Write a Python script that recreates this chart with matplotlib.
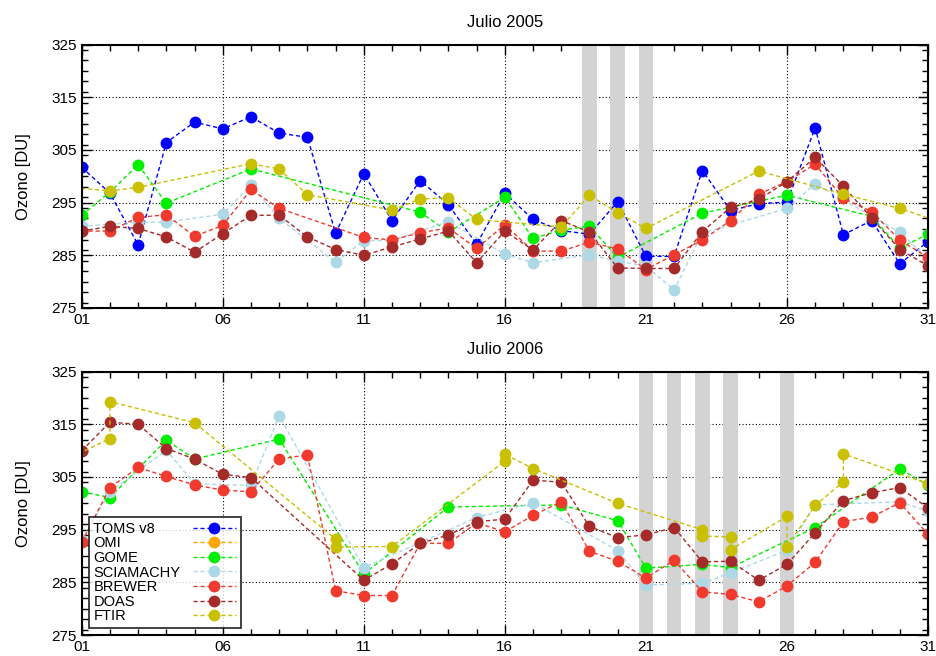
import matplotlib
matplotlib.use("Agg")
import matplotlib.pyplot as plt
from matplotlib.ticker import MultipleLocator

plt.rcParams['font.family'] = ['Liberation Sans', 'DejaVu Sans']

# ---- Julio 2005 ----
toms05_x = list(range(1, 32))
toms05_y = [301.7, 296.8, 287.0, 306.4, 310.3, 309.0, 311.3, 308.2, 307.4, 289.2,
            300.5, 291.6, 299.2, 294.6, 287.1, 296.8, 291.8, 289.7, 289.0, 295.2,
            284.8, 284.8, 301.1, 293.5, 294.8, 295.1, 309.2, 288.9, 291.6, 283.4, 287.6]
gome05_x = [1, 2, 3, 4, 7, 13, 14, 16, 17, 18, 19, 20, 23, 26, 29, 30, 31]
gome05_y = [292.6, 297.0, 302.2, 294.9, 301.4, 293.2, 289.4, 296.0, 288.2, 289.8,
            290.5, 284.6, 293.0, 296.4, 292.4, 286.4, 289.0]
scia05_x = [1, 3, 4, 6, 7, 8, 10, 11, 12, 14, 16, 17, 19, 20, 21, 22, 23, 26, 27, 30, 31]
scia05_y = [290.5, 291.3, 291.3, 292.8, 298.4, 292.0, 283.7, 287.8, 287.8, 291.4,
            285.2, 283.6, 285.1, 283.9, 283.0, 278.4, 289.2, 293.9, 298.6, 289.4, 284.3]
brewer05_x = [1, 2, 3, 4, 5, 6, 7, 8] + list(range(11, 32))
brewer05_y = [289.6, 289.6, 292.2, 292.7, 288.6, 290.7, 297.5, 293.9,
              288.4, 287.9, 289.3, 290.2, 286.3, 290.8, 285.8, 285.8, 287.5, 286.2,
              282.3, 285.1, 287.9, 291.6, 296.6, 299.0, 302.3, 295.8, 293.3, 287.9, 284.6]
doas05_x = list(range(1, 32))
doas05_y = [289.6, 290.5, 290.1, 288.5, 285.6, 289.1, 292.6, 292.6, 288.5, 286.1,
            285.0, 286.6, 288.1, 289.6, 283.6, 289.6, 286.0, 291.6, 289.4, 282.6,
            282.5, 282.5, 289.5, 294.1, 295.6, 299.0, 303.6, 298.1, 292.1, 286.1, 283.0]
ftir05_x = [0, 2, 3, 7, 8, 9, 12, 13, 14, 15, 18, 19, 20, 21, 25, 28, 30, 32]
ftir05_y = [298.2, 297.2, 297.9, 302.4, 301.4, 296.5, 293.6, 295.7, 295.9, 291.8,
            290.4, 296.4, 293.1, 290.1, 301.0, 296.6, 293.9, 290.3]
bars05 = [19, 20, 21]

# ---- Julio 2006 ----
gome06_x = [1, 2, 4, 5, 8, 11, 14, 18, 20, 21, 23, 24, 27, 30, 31]
gome06_y = [302.2, 301.1, 312.0, 308.4, 312.2, 286.6, 299.3, 299.7, 296.7, 287.7,
            288.4, 287.8, 295.4, 306.5, 303.5]
scia06_x = [1, 2, 4, 5, 7, 8, 11, 15, 17, 20, 21, 23, 24, 26, 27, 30, 31]
scia06_y = [293.0, 302.2, 310.1, 303.7, 303.4, 316.6, 287.8, 297.3, 300.1, 291.0,
            284.5, 284.8, 286.8, 291.1, 299.7, 300.3, 298.5]
brewer06_x = list(range(1, 32))
brewer06_y = [292.6, 303.0, 306.8, 305.1, 303.5, 302.5, 302.2, 308.4, 309.2, 283.4,
              282.5, 282.5, 292.4, 292.4, 296.3, 294.6, 297.7, 300.3, 290.9, 289.0,
              285.8, 289.2, 283.2, 282.7, 281.3, 284.3, 288.8, 296.5, 297.4, 300.1, 294.1]
doas06_x = [1, 2, 3, 4, 5, 6, 7] + list(range(11, 32))
doas06_y = [310.0, 315.4, 315.0, 310.4, 308.4, 305.5, 304.9,
            285.4, 288.5, 292.4, 294.0, 296.5, 297.0, 304.4, 304.0, 295.6, 293.5,
            294.0, 295.4, 288.9, 289.0, 285.4, 288.4, 294.4, 300.5, 302.0, 303.0, 299.1]
ftir06_x = [0, 2, 2, 5, 10, 10, 12, 16, 16, 17, 20, 23, 23, 24, 24, 26, 26, 27, 28, 28, 31]
ftir06_y = [307.1, 312.3, 319.3, 315.3, 293.2, 291.7, 291.8, 308.0, 309.3, 306.6,
            300.0, 295.0, 293.8, 293.6, 291.2, 297.5, 291.8, 299.6, 304.1, 309.4, 303.7]
bars06 = [21, 22, 23, 24, 26]

names = ['TOMS v8', 'OMI', 'GOME', 'SCIAMACHY', 'BREWER', 'DOAS', 'FTIR']
colors = ['#0000ff', '#ffa500', '#00ee00', '#add8e6', '#f03a2e', '#a52a2a', '#c8c000']
xticks = [1, 6, 11, 16, 21, 26, 31]
xticklabels = ['01', '06', '11', '16', '21', '26', '31']

panels = [
    ('Julio 2005', bars05, [(toms05_x, toms05_y), None, (gome05_x, gome05_y), (scia05_x, scia05_y),
                            (brewer05_x, brewer05_y), (doas05_x, doas05_y), (ftir05_x, ftir05_y)]),
    ('Julio 2006', bars06, [None, None, (gome06_x, gome06_y), (scia06_x, scia06_y),
                            (brewer06_x, brewer06_y), (doas06_x, doas06_y), (ftir06_x, ftir06_y)]),
]

fig = plt.figure(figsize=(9.37, 6.56), dpi=100)
ax1 = fig.add_axes([0.0872, 0.5305, 0.9032, 0.4015])
ax2 = fig.add_axes([0.0872, 0.032, 0.9032, 0.4015])

for ax, (title, bars, series) in zip([ax1, ax2], panels):
    ax.set_axisbelow(True)
    for d in bars:
        ax.axvspan(d - 0.26, d + 0.26, color='#d3d3d3', lw=0, zorder=1)
    for name, col, s in zip(names, colors, series):
        if s is None:
            ax.plot([], [], ls=(0, (3, 2)), lw=1, color=col, marker='o', ms=7.5, mec=col, label=name)
            continue
        ax.plot(s[0], s[1], ls=(0, (3, 2)), lw=1, color=col, marker='o', ms=7.5,
                mec=col, label=name, zorder=3)
    ax.set_xlim(1, 31)
    ax.set_ylim(275, 325)
    ax.set_xticks(xticks)
    ax.set_xticklabels(xticklabels)
    ax.set_yticks(range(275, 326, 10))
    ax.xaxis.set_minor_locator(MultipleLocator(1))
    ax.yaxis.set_minor_locator(MultipleLocator(2))
    ax.tick_params(which='both', direction='in', top=True, right=True, labelsize=11)
    ax.tick_params(which='major', length=7, width=1)
    ax.tick_params(which='minor', length=4, width=1)
    ax.grid(True, which='major', color='black', ls=(0, (1, 2)), lw=0.8)
    for sp in ax.spines.values():
        sp.set_linewidth(1.5)
        sp.set_zorder(5)
    ax.set_title(title, fontsize=12, pad=13)
    ax.set_ylabel('Ozono [DU]', fontsize=12, labelpad=15)

leg = ax2.legend(loc='lower left', markerfirst=False, fontsize=10.5, frameon=True, fancybox=False,
                 edgecolor='black', handlelength=3.0, handletextpad=1.0, borderpad=0.3,
                 labelspacing=0.04, borderaxespad=0.5)
leg.get_frame().set_linewidth(1.3)
leg.set_zorder(6)
# texto a la izquierda, simbolo a la derecha
col = leg._legend_handle_box.get_children()[0]
col.align = 'left'
for row in col.get_children():
    row.mode = 'expand'
    row.width = 143

fig.savefig('out.png', dpi=100)
